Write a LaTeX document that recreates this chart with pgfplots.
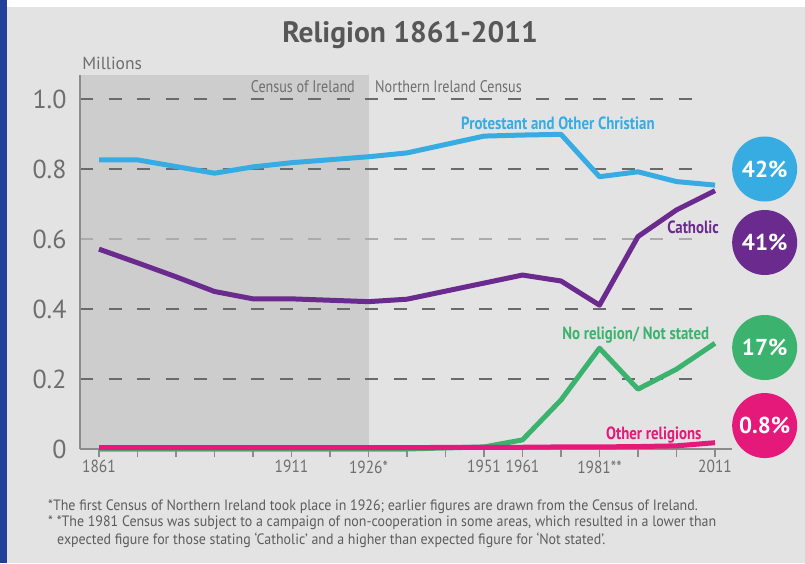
\documentclass[border=0pt]{standalone}
\usepackage{pgfplots}
\pgfplotsset{compat=1.18}
\usepackage{fontspec}
\setmainfont{PT Sans}
\newfontfamily\condfont[FakeStretch=0.84]{PT Sans}
\newfontfamily\notefont[FakeStretch=0.88]{PT Sans}
\newfontfamily\footfont[FakeStretch=0.93]{PT Sans}
\definecolor{bgc}{HTML}{E3E3E3}
\definecolor{shadec}{HTML}{CDCDCD}
\definecolor{bordc}{HTML}{22409A}
\definecolor{protc}{HTML}{36ACE3}
\definecolor{cathc}{HTML}{6A2A8E}
\definecolor{nonec}{HTML}{3BB36E}
\definecolor{othc}{HTML}{E5197A}
\definecolor{titlegray}{HTML}{575757}
\definecolor{tickgray}{HTML}{6E6E6E}
\definecolor{notegray}{HTML}{5C5C5C}
\definecolor{axisgray}{HTML}{8C8C8C}
\definecolor{dashgray}{HTML}{6A6A6A}
\definecolor{dashlight}{HTML}{ABABAB}
\begin{document}
\begin{tikzpicture}
\begin{axis}[
  set layers,
  scale only axis, width=652pt, height=374pt,
  xmin=-0.4935, xmax=16.4416, ymin=0, ymax=1.06857,
  axis x line=bottom, axis y line=left,
  axis line style={-, draw=axisgray, line width=1.3pt},
  xtick={0,1,2,3,4,5,6,7,8,9,10,11,12,13,14,15,16},
  xticklabels={1861,,,,,1911,,1926*,,,1951,1961,,1981**,,,2011},
  xtick style={draw=axisgray, line width=1.2pt},
  tick align=outside, major tick length=8pt,
  ytick={0,0.2,0.4,0.6,0.8,1.0},
  yticklabels={0,0.2,0.4,0.6,0.8,1.0},
  ytick style={draw=none},
  xticklabel style={font=\notefont\fontsize{17.5}{17.5}\selectfont, text=tickgray},
  yticklabel style={font=\fontsize{26}{26}\selectfont, text=tickgray, xshift=-2pt},
  /pgf/number format/assume math mode=true,
  clip=false,
]
\begin{pgfonlayer}{axis background}
\fill[bgc] ([shift={(-80pt,-114pt)}]axis cs:-0.4935,0) rectangle ([shift={(725pt,449pt)}]axis cs:-0.4935,0);
\fill[white] ([shift={(-80pt,442pt)}]axis cs:-0.4935,0) rectangle ([shift={(725pt,449pt)}]axis cs:-0.4935,0);
\fill[bordc] ([shift={(-80pt,-114pt)}]axis cs:-0.4935,0) rectangle ([shift={(-73pt,449pt)}]axis cs:-0.4935,0);
\fill[shadec] (axis cs:-0.4935,0) rectangle (axis cs:7,1.06857);
\draw[dashgray, line width=1.8pt, dash pattern=on 13pt off 15.5pt] (axis cs:-0.4935,1.0) -- (axis cs:15.74,1.0);
\draw[dashgray, line width=1.8pt, dash pattern=on 13pt off 15.5pt] (axis cs:-0.4935,0.8) -- (axis cs:15.74,0.8);
\draw[dashlight, line width=1.8pt, dash pattern=on 13pt off 15.5pt] (axis cs:-0.4935,0.6) -- (axis cs:15.74,0.6);
\draw[dashgray, line width=1.8pt, dash pattern=on 13pt off 15.5pt] (axis cs:-0.4935,0.4) -- (axis cs:15.74,0.4);
\draw[dashgray, line width=1.8pt, dash pattern=on 13pt off 15.5pt] (axis cs:-0.4935,0.2) -- (axis cs:15.74,0.2);
\end{pgfonlayer}

% Protestant and Other Christian
\addplot[protc, line width=5pt, line join=round] coordinates {
(0,0.826) (1,0.826) (2,0.807) (3,0.788) (4,0.806) (5,0.818) (7,0.835) (8,0.846)
(10,0.894) (11,0.897) (12,0.899) (13,0.778) (14,0.792) (15,0.764) (16,0.754)};
% Catholic
\addplot[cathc, line width=5pt, line join=round] coordinates {
(0,0.571) (1,0.532) (2,0.492) (3,0.450) (4,0.429) (5,0.429) (7,0.421) (8,0.428)
(10,0.474) (11,0.497) (12,0.480) (13,0.411) (14,0.607) (15,0.683) (16,0.738)};
% No religion / not stated
\addplot[nonec, line width=5pt, line join=round] coordinates {
(0,0) (1,0) (2,0) (3,0) (4,0) (5,0) (7,0) (8,0)
(10,0.006) (11,0.026) (12,0.140) (13,0.288) (14,0.171) (15,0.228) (16,0.302)};
% Other religions
\addplot[othc, line width=5pt, line join=round] coordinates {
(0,0.004) (1,0.004) (2,0.004) (3,0.004) (4,0.004) (5,0.004) (7,0.004) (8,0.004)
(10,0.005) (11,0.005) (12,0.006) (13,0.006) (14,0.007) (15,0.009) (16,0.018)};

\node[font=\bfseries\fontsize{29.5}{29.5}\selectfont, text=titlegray] at (axis cs:8.08,1.182) {Religion 1861-2011};
\node[anchor=west, font=\fontsize{17.5}{17.5}\selectfont, text=tickgray, inner sep=0pt] at (axis cs:-0.44,1.103) {Millions};
\node[anchor=east, font=\condfont\fontsize{16.8}{16.8}\selectfont, text=tickgray, inner sep=0pt] at (axis cs:6.65,1.034) {Census of Ireland};
\node[anchor=west, font=\condfont\fontsize{16.8}{16.8}\selectfont, text=tickgray, inner sep=0pt] at (axis cs:7.17,1.034) {Northern Ireland Census};

\node[font=\condfont\bfseries\fontsize{17.7}{17.7}\selectfont, text=protc] at (axis cs:11.92,0.931) {Protestant and Other Christian};
\node[font=\condfont\bfseries\fontsize{17.7}{17.7}\selectfont, text=cathc] at (axis cs:15.43,0.634) {Catholic};
\node[font=\condfont\bfseries\fontsize{17.7}{17.7}\selectfont, text=nonec] at (axis cs:13.94,0.326) {No religion/ Not stated};
\node[font=\condfont\bfseries\fontsize{17.7}{17.7}\selectfont, text=othc] at (axis cs:14.41,0.040) {Other religions};

\node[circle, fill=protc, minimum size=65pt, inner sep=0pt, text=white, font=\bfseries\fontsize{23}{23}\selectfont] at (axis cs:17.29,0.800) {42\%};
\node[circle, fill=cathc, minimum size=65pt, inner sep=0pt, text=white, font=\bfseries\fontsize{23}{23}\selectfont] at (axis cs:17.29,0.590) {41\%};
\node[circle, fill=nonec, minimum size=65pt, inner sep=0pt, text=white, font=\bfseries\fontsize{23}{23}\selectfont] at (axis cs:17.29,0.290) {17\%};
\node[circle, fill=othc, minimum size=65pt, inner sep=0pt, text=white, font=\bfseries\fontsize{23}{23}\selectfont] at (axis cs:17.29,0.067) {0.8\%};

\node[anchor=west, inner sep=0pt, font=\footfont\fontsize{15}{15}\selectfont, text=notegray] at (axis cs:-1.325,-0.166) {*The first Census of Northern Ireland took place in 1926; earlier figures are drawn from the Census of Ireland.};
\node[anchor=west, inner sep=0pt, font=\footfont\fontsize{15}{15}\selectfont, text=notegray] at (axis cs:-1.325,-0.211) {* *The 1981 Census was subject to a campaign of non-cooperation in some areas, which resulted in a lower than};
\node[anchor=west, inner sep=0pt, font=\footfont\fontsize{15}{15}\selectfont, text=notegray] at (axis cs:-1.09,-0.26) {expected figure for those stating ‘Catholic’ and a higher than expected figure for ‘Not stated’.};
\end{axis}
\end{tikzpicture}
\end{document}
